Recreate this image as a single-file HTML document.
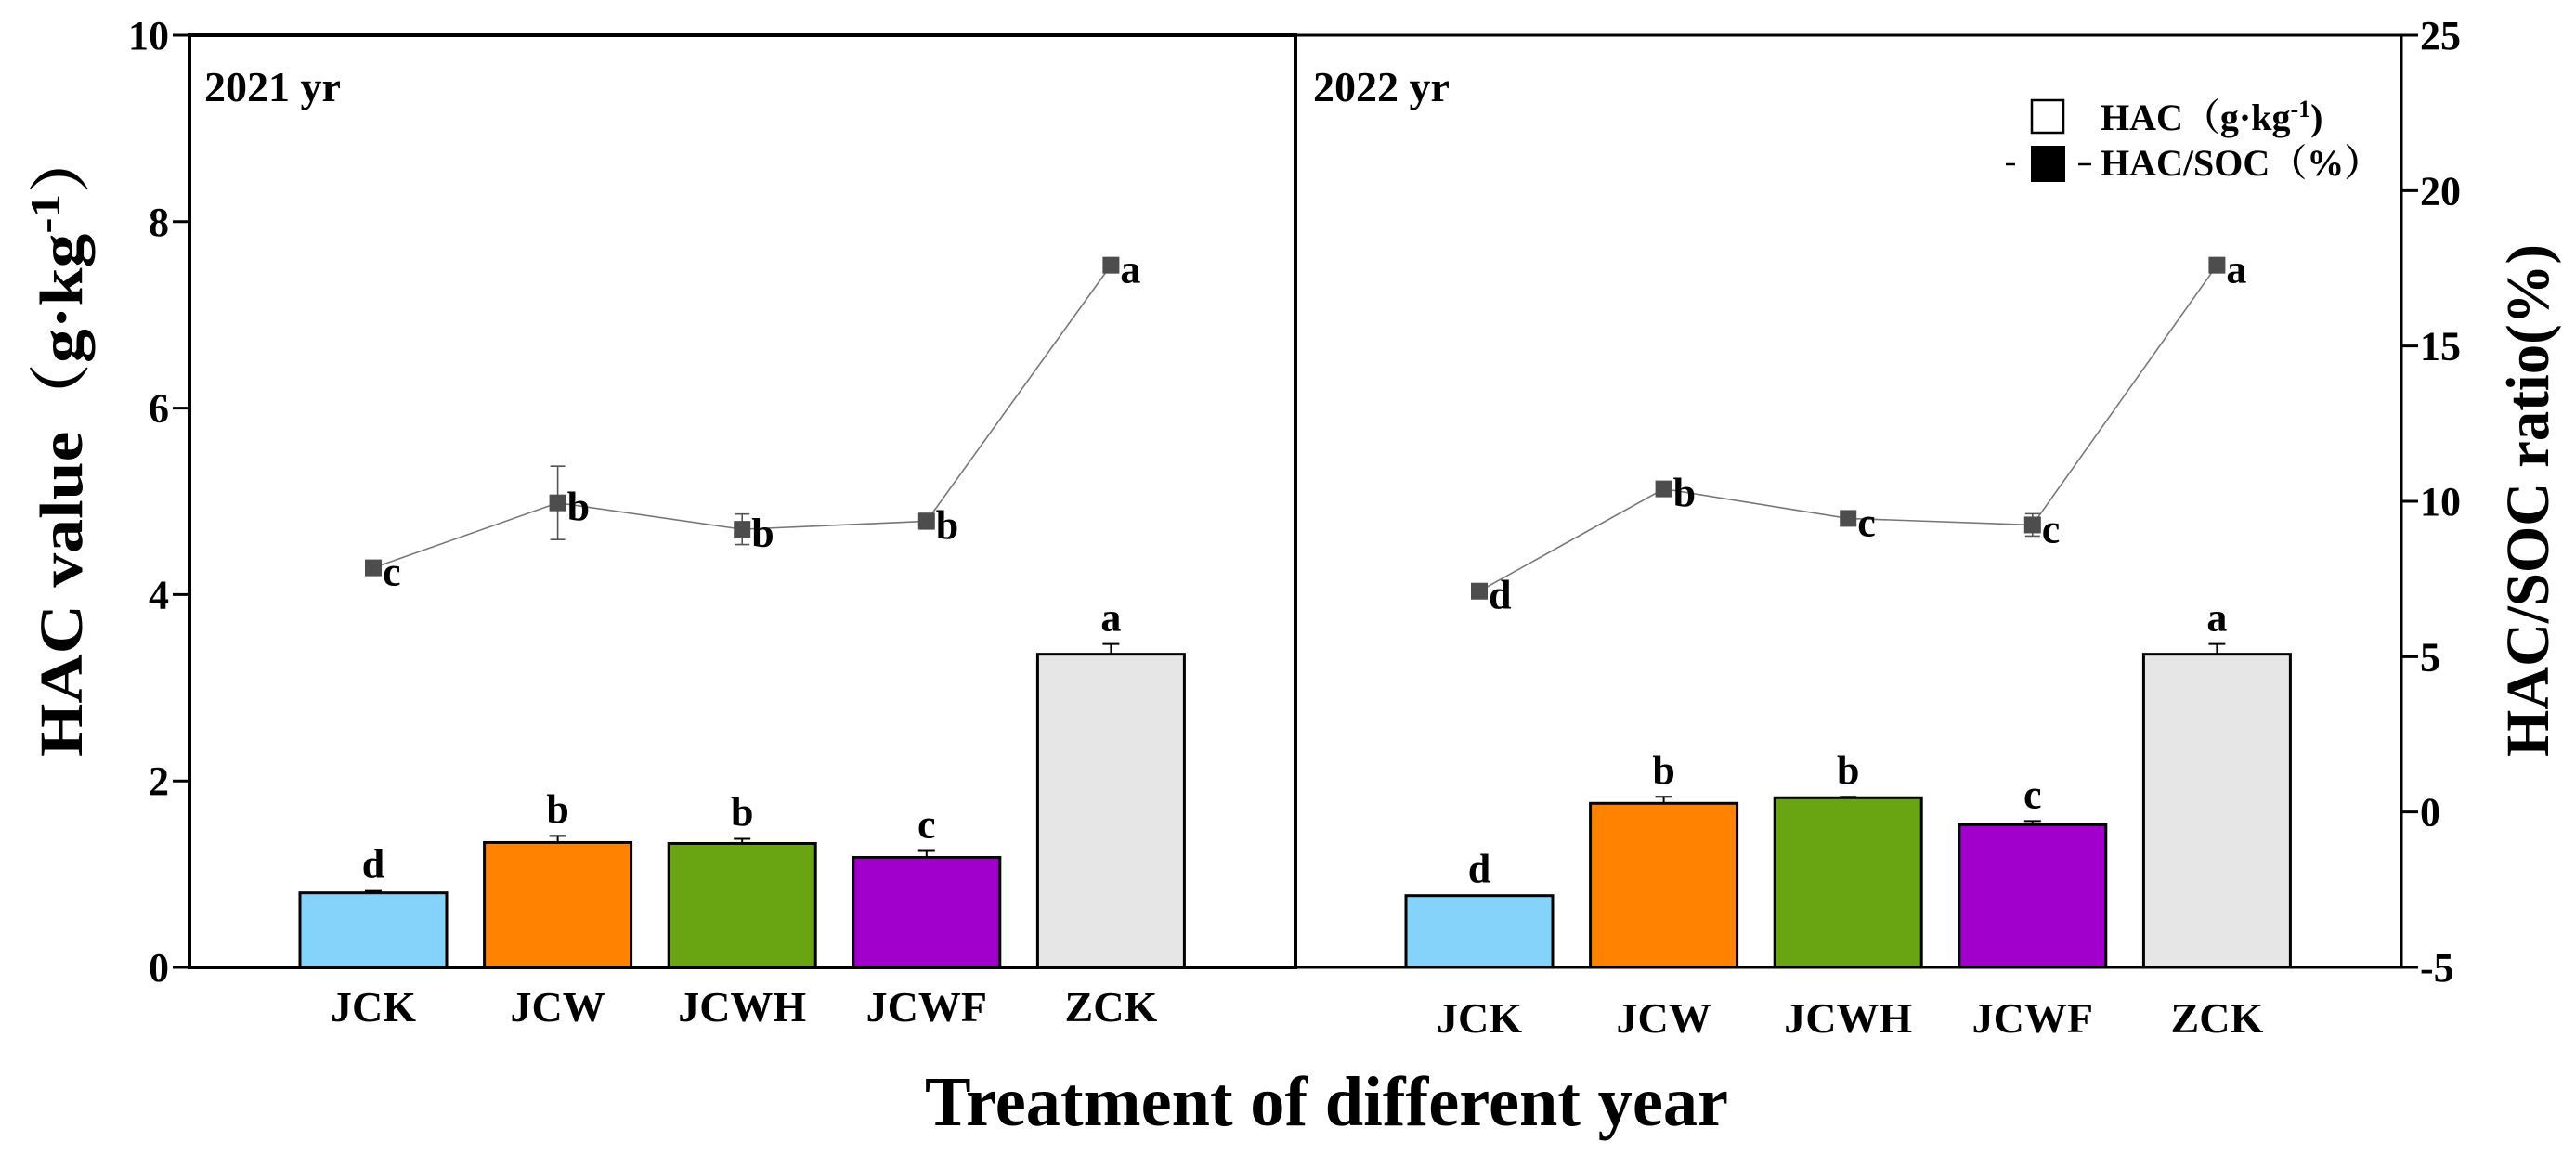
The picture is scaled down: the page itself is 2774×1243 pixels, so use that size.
<!DOCTYPE html>
<html><head><meta charset="utf-8"><style>
html,body{margin:0;padding:0;background:#fff}
svg{display:block}
text{font-family:"Liberation Serif","Noto Serif CJK SC",serif;font-weight:bold;fill:#000}
</style></head><body>
<svg id="chart" width="2774" height="1243" viewBox="0 0 2774 1243" xmlns="http://www.w3.org/2000/svg">
<g id="frame">
<rect x="204" y="38" width="1191" height="1004" fill="none" stroke="#000" stroke-width="4"/>
<polyline points="1395,38 2586,38 2586,1042 1395,1042" fill="none" stroke="#000" stroke-width="3"/>
</g>
<g id="ticks"></g>
<g id="marks"></g>
<text x="220" y="109" font-size="46">2021 yr</text>
<text x="1414" y="109" font-size="46">2022 yr</text>
<g>
<rect x="2188" y="108" width="34" height="35" fill="#fff" stroke="#000" stroke-width="2.5"/>
<text x="2262" y="140" font-size="40">HAC（g·kg<tspan dy="-14" font-size="26">-1</tspan><tspan dy="14">)</tspan></text>
<line x1="2160" y1="177" x2="2170" y2="177" stroke="#000" stroke-width="2.5"/>
<rect x="2187" y="157" width="37" height="39" fill="#000"/>
<line x1="2238" y1="177" x2="2252" y2="177" stroke="#000" stroke-width="2.5"/>
<text x="2262" y="189" font-size="40">HAC/SOC（%）</text>
</g>
<text x="996" y="1212" font-size="76" textLength="865" lengthAdjust="spacingAndGlyphs">Treatment  of different year</text>
<text transform="translate(88,815) rotate(-90)" font-size="66" textLength="680" lengthAdjust="spacingAndGlyphs">HAC value（g·kg<tspan dy="-24" font-size="46">-1</tspan><tspan dy="24">）</tspan></text>
<text transform="translate(2744,815) rotate(-90)" font-size="66" textLength="552" lengthAdjust="spacingAndGlyphs">HAC/SOC ratio(%)</text>
</svg>
<script>
const categories = ["JCK","JCW","JCWH","JCWF","ZCK"];
const leftTicks = [0,2,4,6,8,10];
const rightTicks = [-5,0,5,10,15,20,25];
const hac2021 = [0.80,1.34,1.33,1.18,3.36];
const hacErr2021 = [0.02,0.07,0.05,0.07,0.11];
const hacSig2021 = ["d","b","b","c","a"];
const ratio2021 = [7.86,9.95,9.10,9.36,17.6];
const ratioErr2021 = [0.2,1.18,0.49,0.25,0.2];
const ratioSig2021 = ["c","b","b","b","a"];
const hac2022 = [0.77,1.76,1.82,1.53,3.36];
const hacErr2022 = [0.0,0.07,0.01,0.04,0.11];
const hacSig2022 = ["d","b","b","c","a"];
const ratio2022 = [7.11,10.4,9.45,9.24,17.6];
const ratioErr2022 = [0.1,0.2,0.2,0.36,0.2];
const ratioSig2022 = ["d","b","c","c","a"];
const colors = ["#85d3fb","#ff8300","#69a512","#a100cc","#e6e6e6"];

const NS="http://www.w3.org/2000/svg";
const Y0=1042, YT=38;
function yL(v){return Y0-(v-0)/(10-0)*(Y0-YT);}
function yR(v){return Y0-(v+5)/(30)*(Y0-YT);}
function xC(panel,i){return (panel===0?402:1593)+i*198.6;}
function mk(tag,attrs,parent,txt){const e=document.createElementNS(NS,tag);for(const k in attrs)e.setAttribute(k,attrs[k]);if(txt!==undefined)e.textContent=txt;parent.appendChild(e);return e;}
const tg=document.getElementById('ticks'), mg=document.getElementById('marks');
leftTicks.forEach(v=>{
  const l=mk('line',{x1:186,x2:204,y1:yL(v),y2:yL(v),stroke:'#000','stroke-width':3},tg);
  
  
  const t=mk('text',{x:182,y:yL(v)+15,'font-size':44,'text-anchor':'end'},tg,String(v));
  
  
});
rightTicks.forEach(v=>{
  const l=mk('line',{x1:2586,x2:2604,y1:yR(v),y2:yR(v),stroke:'#000','stroke-width':3},tg);
  
  
  const t=mk('text',{x:2606,y:yR(v)+15,'font-size':44},tg,String(v));
  
  
});
const panels=[[hac2021,hacErr2021,hacSig2021,ratio2021,ratioErr2021,ratioSig2021,1100],[hac2022,hacErr2022,hacSig2022,ratio2022,ratioErr2022,ratioSig2022,1112]];
panels.forEach((p,pi)=>{
  const [h,he,hs,r,re,rs,lb]=p;
  categories.forEach((c,i)=>{
    const x=xC(pi,i);
    const b=mk('rect',{x:x-79,y:yL(h[i]),width:158,height:Y0-yL(h[i]),fill:colors[i],stroke:'#000','stroke-width':3},mg);
    
    
    const et=yL(h[i]+he[i]);
    const e1=mk('path',{d:`M${x},${yL(h[i])}V${et}M${x-9},${et}H${x+9}`,stroke:'#000','stroke-width':2,fill:'none'},mg);
    
    
    const s=mk('text',{x:x,y:et-14,'font-size':44,'text-anchor':'middle'},mg,hs[i]);
    
    
    const cl=mk('text',{x:x,y:lb,'font-size':46,'text-anchor':'middle'},mg,c);
    
    
  });
  const pts=r.map((v,i)=>xC(pi,i)+','+yR(v)).join(' ');
  const ln=mk('polyline',{points:pts,fill:'none',stroke:'#777','stroke-width':1.6},mg);
  
  
  r.forEach((v,i)=>{
    const x=xC(pi,i), y=yR(v);
    const e=mk('path',{d:`M${x},${yR(v-re[i])}V${yR(v+re[i])}M${x-8},${yR(v-re[i])}H${x+8}M${x-8},${yR(v+re[i])}H${x+8}`,stroke:'#555','stroke-width':1.6,fill:'none'},mg);
    
    
    const m=mk('rect',{x:x-9,y:y-9,width:18,height:18,fill:'#4d4d4d'},mg);
    
    
    const t=mk('text',{x:x+10,y:y+19,'font-size':44},mg,rs[i]);
    
    
  });
});
</script>
</body></html>
